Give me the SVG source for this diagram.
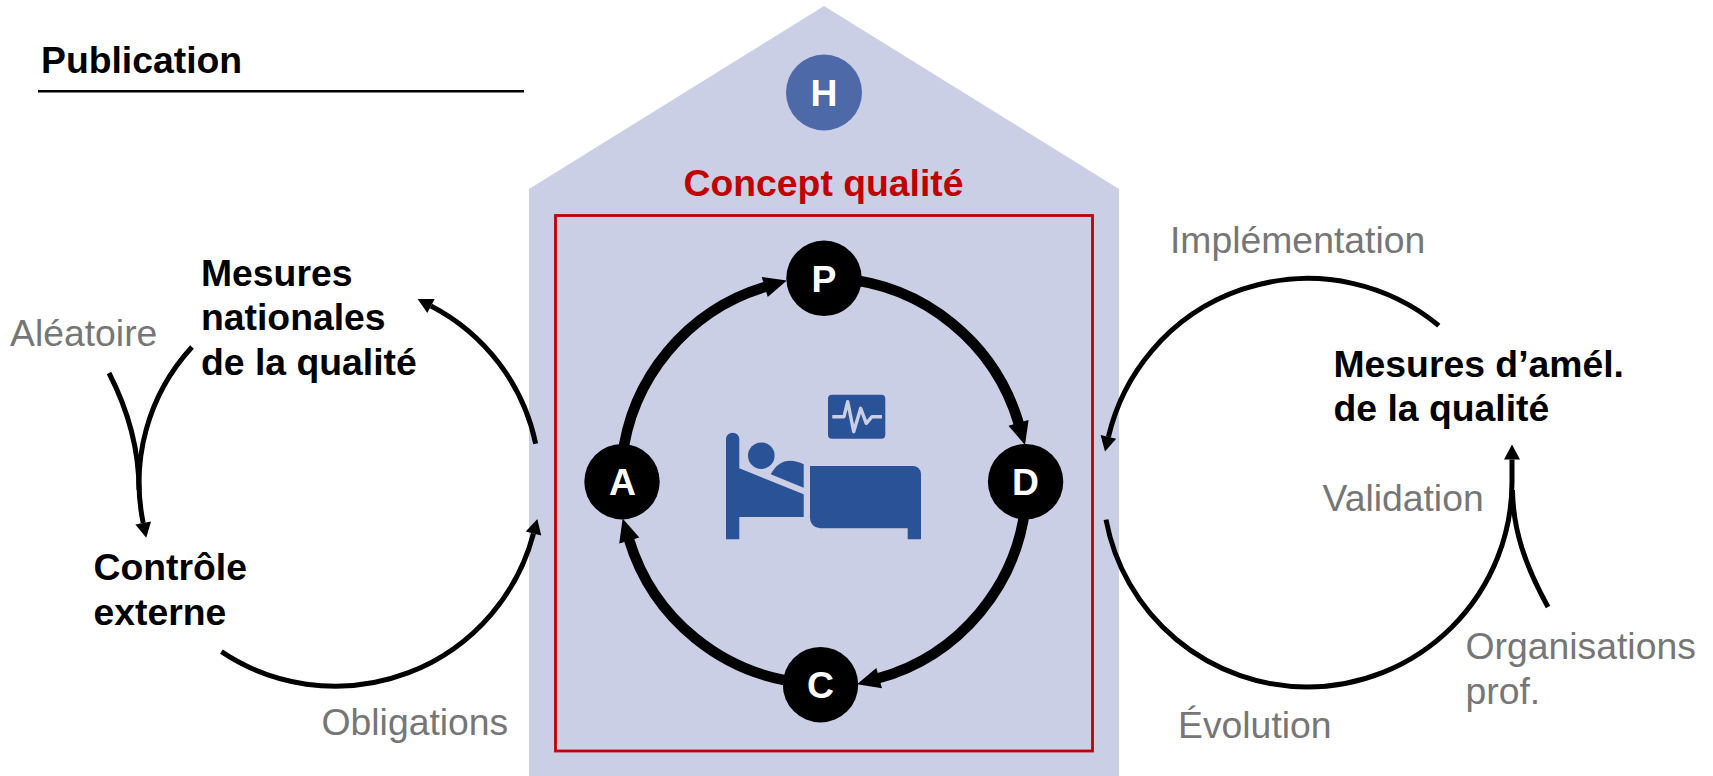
<svg xmlns="http://www.w3.org/2000/svg" width="1713" height="776" viewBox="0 0 1713 776">
<style>
text{font-family:"Liberation Sans",Arial,sans-serif;font-size:37.33px}
.b{font-weight:700;fill:#000}
.g{fill:#767676}
.l{font-weight:700;fill:#fff;text-anchor:middle}
.thick{fill:none;stroke:#000;stroke-width:10.5;marker-end:url(#big)}
.thin{fill:none;stroke:#000;stroke-width:5}
.thina{marker-end:url(#small)}
.icon{fill:#2a5297}
</style>
<defs>
<marker id="big" markerUnits="userSpaceOnUse" markerWidth="26" markerHeight="24" refX="2" refY="12" orient="auto" overflow="visible"><path d="M1,1.5L24,12L1,22.5Z" fill="#000"/></marker>
<marker id="small" markerUnits="userSpaceOnUse" markerWidth="20" markerHeight="20" refX="1" refY="10" orient="auto" overflow="visible"><path d="M1,2L16,10L1,18Z" fill="#000"/></marker>
</defs>
<rect width="1713" height="776" fill="#fff"/>
<g id="house"><path d="M824,6L1119,189V776H529V189Z" fill="#cacfe6"/></g>
<g id="publication"><text class="b" x="41" y="72.5">Publication</text><path d="M38,91.3H524" stroke="#000" stroke-width="2.4"/></g>
<g id="concept"><text x="823.5" y="196" text-anchor="middle" font-weight="700" fill="#c00000">Concept qualité</text><rect x="555.5" y="215.5" width="537" height="535.5" fill="none" stroke="#c00000" stroke-width="2.8"/></g>
<g id="connectors">
<path class="thick" d="M622,460A203,203 0 0 1 765.7,286.7"/>
<path class="thick" d="M840,278.6A203,203 0 0 1 1018.8,423.8"/>
<path class="thick" d="M1026,500A203,203 0 0 1 878.2,678.3"/>
<path class="thick" d="M806,683A203,203 0 0 1 629,539.5"/>
<path class="thin thina" d="M535.7,443.7A202,202 0 0 0 431,306"/>
<path class="thin thina" d="M221.4,651.7A205,205 0 0 0 533.5,533.5"/>
<path class="thin thina" d="M192,347A200,200 0 0 0 143.2,523"/>
<path class="thin" d="M109,373C128,410 139,450 139,490"/>
<path class="thin thina" d="M1438.8,325.6A205,205 0 0 0 1108.4,436.9"/>
<path class="thin thina" d="M1106,519.6A205,205 0 0 0 1307,687A205,205 0 0 0 1512,482V459.5"/>
<path class="thin" d="M1548,607C1525,565 1513,530 1512.5,490"/>
</g>
<g id="node-h"><circle cx="824" cy="92.5" r="38" fill="#4d69a8"/><text class="l" x="824" y="105.5">H</text></g>
<g id="node-p"><circle cx="824" cy="278.3" r="37.7" fill="#000"/><text class="l" x="824" y="291.5">P</text></g>
<g id="node-d"><circle cx="1025.6" cy="481.7" r="37.7" fill="#000"/><text class="l" x="1025.6" y="495">D</text></g>
<g id="node-c"><circle cx="820.5" cy="684.7" r="37.7" fill="#000"/><text class="l" x="820.5" y="698">C</text></g>
<g id="node-a"><circle cx="622" cy="481.7" r="37.7" fill="#000"/><text class="l" x="622.5" y="495">A</text></g>
<g id="patient">
<rect class="icon" x="828" y="394.7" width="57.3" height="44" rx="4"/>
<path d="M832.3,416.7H844L847.7,401.7L853.7,431.7L860.7,408.3L866.3,423.3L872,416.7H882" fill="none" stroke="#cacfe6" stroke-width="3.4" stroke-linejoin="round"/>
<path class="icon" d="M726,539.3V439.3a6.65,6.65 0 0 1 13.3,0V468.3L803.7,494.3V517H739.3V539.3Z"/>
<circle class="icon" cx="761.3" cy="455.7" r="13.3"/>
<path class="icon" d="M770.7,474.3Q778,460.7 790,460.7Q797,460.7 803.7,464.3V487.7Z"/>
<path class="icon" d="M810,466H913a8,8 0 0 1 8,8V539.3H907.7V528.3H820a10,10 0 0 1 -10,-10Z"/>
</g>
<g id="mesures-nationales"><text class="b" x="201" y="285.5">Mesures</text><text class="b" x="201" y="330">nationales</text><text class="b" x="201" y="375">de la qualité</text></g>
<g id="controle-externe"><text class="b" x="93.5" y="579.5">Contrôle</text><text class="b" x="93.5" y="624.5">externe</text></g>
<g id="mesures-amelioration"><text class="b" x="1333.5" y="377">Mesures d’amél.</text><text class="b" x="1333.5" y="421">de la qualité</text></g>
<g id="labels">
<text class="g" x="10" y="345.5">Aléatoire</text>
<text class="g" x="321.5" y="735">Obligations</text>
<text class="g" x="1170" y="253">Implémentation</text>
<text class="g" x="1322.5" y="511">Validation</text>
<text class="g" x="1465.5" y="659">Organisations</text>
<text class="g" x="1465.5" y="704">prof.</text>
<text class="g" x="1178" y="737.5">Évolution</text>
</g>
</svg>
